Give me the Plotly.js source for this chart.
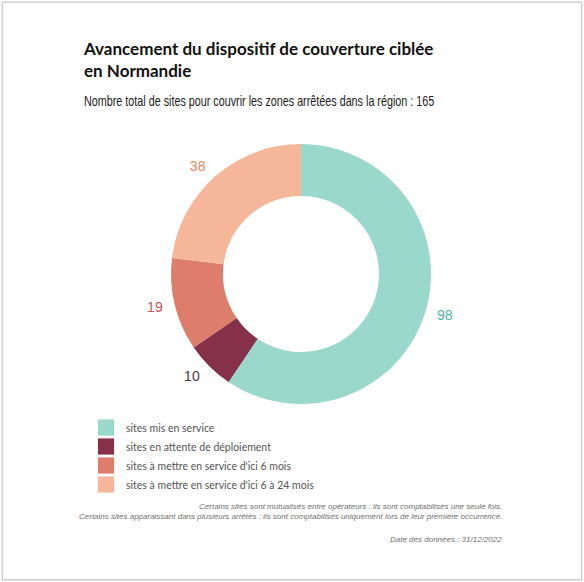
<!DOCTYPE html>
<html><head><meta charset="utf-8">
<script src="https://cdn.plot.ly/plotly-3.0.1.min.js"></script>
<style>html,body{margin:0;padding:0;background:#fff;}#chart{width:584px;height:582px;}</style>
</head><body><div id="chart"></div>
<script>
const categories = ["sites mis en service", "sites en attente de déploiement", "sites à mettre en service d'ici 6 mois", "sites à mettre en service d'ici 6 à 24 mois"];
const values = [98, 10, 19, 38];
const sliceColors = ["#9ad8cc", "#873049", "#dd7d6b", "#f6b699"];
const labelColors = ["#4fb3a3", "#4a3548", "#c8564a", "#e8865c"];

const W = 584, H = 582;
const donut = {
  type: 'pie',
  labels: categories,
  values: values,
  hole: 0.6,
  sort: false,
  direction: 'clockwise',
  rotation: 0,
  marker: {colors: sliceColors, line: {width: 0}},
  textinfo: 'none',
  domain: {x: [171/W, 431/W], y: [1 - 404/H, 1 - 144/H]},
  hoverinfo: 'label+value'
};
// transparent ring, slightly larger, only used to place the value labels a bit further out
const labelRing = {
  type: 'pie',
  labels: categories,
  values: values,
  hole: 0.9,
  sort: false,
  direction: 'clockwise',
  rotation: 0,
  showlegend: false,
  marker: {colors: ['rgba(0,0,0,0)', 'rgba(0,0,0,0)', 'rgba(0,0,0,0)', 'rgba(0,0,0,0)'], line: {width: 0}},
  textinfo: 'value',
  textposition: 'outside',
  outsidetextfont: {family: 'Liberation Sans, Arial, sans-serif', size: 14, color: labelColors},
  domain: {x: [163/W, 439/W], y: [1 - 412/H, 1 - 136/H]},
  hoverinfo: 'skip'
};

const narrow = 'Liberation Sans, Arial, sans-serif';
const layout = {
  width: W, height: H,
  margin: {l: 0, r: 0, t: 0, b: 0},
  paper_bgcolor: '#fff',
  showlegend: true,
  legend: {
    x: 86/W, xanchor: 'left', y: 1 - 413/H, yanchor: 'top',
    bgcolor: 'rgba(0,0,0,0)',
    font: {family: 'Lato, sans-serif', size: 10.5, color: '#555'},
    traceorder: 'normal'
  },
  shapes: [{type: 'rect', xref: 'paper', yref: 'paper', x0: 0.004, x1: 0.996, y0: 0.004, y1: 0.996, line: {color: '#d0d0d0', width: 1.5}}],
  annotations: [
    {text: '<b>Avancement du dispositif de couverture ciblée<br>en Normandie</b>', xref: 'paper', yref: 'paper', x: 81/W, y: 1 - 60/H, xanchor: 'left', yanchor: 'middle', align: 'left', showarrow: false, font: {family: 'Lato, sans-serif', size: 17, color: '#111'}},
    {text: 'Nombre total de sites pour couvrir les zones arrêtées dans la région : 165', xref: 'paper', yref: 'paper', x: 82/W, y: 1 - 101/H, xanchor: 'left', yanchor: 'middle', align: 'left', showarrow: false, font: {family: narrow, size: 14, color: '#222'}},
    {text: '<i>Certains sites sont mutualisés entre opérateurs : ils sont comptabilisés une seule fois.<br>Certains sites apparaissant dans plusieurs arrêtés : ils sont comptabilisés uniquement lors de leur première occurrence.</i>', xref: 'paper', yref: 'paper', x: 504/W, y: 1 - 500/H, xanchor: 'right', yanchor: 'top', align: 'right', showarrow: false, font: {family: narrow, size: 8, color: '#707070'}},
    {text: '<i>Date des données : 31/12/2022</i>', xref: 'paper', yref: 'paper', x: 504/W, y: 1 - 533/H, xanchor: 'right', yanchor: 'top', align: 'right', showarrow: false, font: {family: narrow, size: 8, color: '#707070'}}
  ]
};

Plotly.newPlot('chart', [donut, labelRing], layout, {displayModeBar: false, staticPlot: true}).then(function (gd) {
  // condense the subtitle horizontally (reference uses a narrow face)
  gd.querySelectorAll('.annotation-text').forEach(function (t) {
    if (t.textContent.indexOf('Nombre total') === 0) {
      const bb = t.getBBox();
      t.setAttribute('transform', 'translate(' + bb.x + ',0) scale(0.77,1) translate(' + (-bb.x) + ',0)');
    }
  });
  // larger legend swatches
  gd.querySelectorAll('.legend .legendpoints path').forEach(function (p) {
    const tr = p.getAttribute('transform') || '';
    p.setAttribute('transform', tr + ' scale(1.35)');
  });
});
</script></body></html>
